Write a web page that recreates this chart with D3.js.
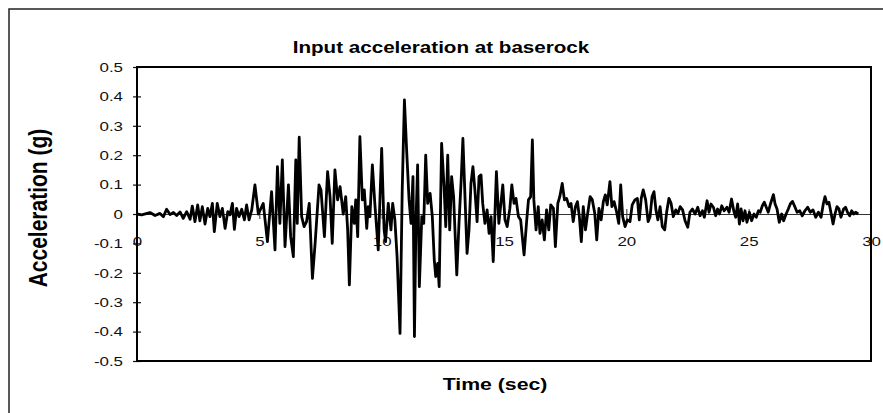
<!DOCTYPE html>
<html>
<head>
<meta charset="utf-8">
<script src="https://cdn.jsdelivr.net/npm/d3@7"></script>
<style>
  body { margin: 0; background: #fff; }
  svg { display: block; font-family: Arial, "Liberation Sans", sans-serif; }
</style>
</head>
<body>
<div id="chart"></div>
<script>
// Record, [time (s), acceleration (g)] turning points
const PRE_SHAKING = [
  [0,0],[0.19,-0.003],[0.53,0.005],[0.74,-0.005],[0.94,0.002],[1.08,-0.009],[1.21,0.016],
  [1.35,-0.002],[1.49,0.005],[1.62,-0.005],[1.76,0.007],[1.89,-0.015],[2.03,0.008],[2.17,-0.018],
  [2.26,0.027],[2.37,-0.026],[2.48,0.031],[2.57,-0.023],[2.67,0.025],[2.78,-0.034],[2.89,0.019],
  [2.98,-0.009],[3.08,0.036],[3.16,-0.06],[3.28,0.036],[3.39,-0.009],[3.49,0.019],[3.60,-0.049],
  [3.71,0.008],[3.80,-0.003],[3.90,0.036],[3.98,-0.052],[4.07,0.019],[4.17,-0.009],[4.28,0.016],
  [4.39,-0.02],[4.48,0.031],[4.58,-0.02],[4.69,0.014]
]
const BUILD_UP = [
  [4.82,0.099],[4.96,0],[5.16,0.036],[5.33,-0.094],[5.50,0.076],[5.64,-0.122],[5.74,0.161],
  [5.84,-0.032],[5.94,0.184],[6.05,-0.111],[6.19,0.099],[6.28,-0.077],[6.39,-0.145],[6.49,0.184],
  [6.55,-0.032],[6.63,0.261],[6.73,-0.009],[6.83,-0.043],[6.93,-0.026],[7.04,0.036],[7.17,-0.219]
]
const STRONG_MOTION = [
  [7.28,-0.1],[7.44,0.099],[7.52,0.082],[7.66,-0.077],[7.79,0.144],[7.89,0.059],[7.98,-0.1],
  [8.09,0.15],[8.20,0.048],[8.30,0.093],[8.43,0],[8.53,0.059],[8.61,-0.054],[8.68,-0.241],
  [8.78,0.025],[8.88,-0.032],[8.94,0.048],[9.02,-0.077],[9.11,0.263],[9.21,0.048],[9.29,0.082],
  [9.39,-0.049],[9.45,0.025],[9.52,-0.009],[9.62,0.167],[9.72,0.036],[9.86,-0.122],[10.0,0.223],
  [10.1,-0.054],[10.16,-0.094],[10.27,0.036],[10.38,-0.054],[10.45,0.036],[10.54,-0.02],
  [10.63,-0.145],[10.75,-0.406],[10.84,0.082],[10.93,0.388],[11.02,0.218],[11.12,0.048],
  [11.20,-0.032],[11.28,0.127],[11.34,-0.417],[11.40,-0.032],[11.47,0.167],[11.54,-0.247],
  [11.64,-0.009],[11.72,-0.032],[11.80,0.2],[11.88,0.036],[11.98,0.07],[12.07,-0.009],
  [12.15,-0.156],[12.21,-0.213],[12.29,-0.168],[12.35,-0.247],[12.45,0.24],[12.55,0.093],
  [12.62,-0.043],[12.70,0.2],[12.78,-0.054],[12.86,0.127],[12.94,0.059],[13.07,-0.207],
  [13.16,-0.032],[13.25,0.116],[13.32,0.257],[13.41,0.048],[13.49,-0.134],[13.57,-0.054],
  [13.65,0.104],[13.73,0.161],[13.81,0.082],[13.90,-0.026],[13.98,0.127],[14.06,0.133],
  [14.13,0.036],[14.22,-0.032],[14.31,0.014],[14.39,-0.066],[14.47,-0.009],[14.56,-0.162],
  [14.69,0.144],[14.79,-0.032]
]
const CODA_EARLY = [
  [14.95,0.099],[15.04,-0.02],[15.13,-0.043],[15.24,0.019],[15.32,0.099],[15.41,0.036],
  [15.49,0.053],[15.59,-0.009],[15.68,-0.02],[15.82,-0.139],[15.93,-0.02],[16.0,0.048],
  [16.09,0.059],[16.16,0.252],[16.22,0.048],[16.31,-0.054],[16.40,0.025],[16.47,-0.066],
  [16.56,-0.02],[16.65,-0.088],[16.74,0.014],[16.83,-0.054],[16.91,0.031],[17.02,0.019],
  [17.10,-0.111],[17.20,0.036],[17.28,0.059],[17.38,0.104],[17.47,0.048],[17.56,0.053],
  [17.66,0.025],[17.74,0.036],[17.83,-0.026],[17.92,0.025],[18.0,0.042],[18.08,-0.009],
  [18.16,-0.094],[18.24,0.025],[18.33,-0.054],[18.42,0.002],[18.52,0.059],[18.61,0.048],
  [18.71,0.002],[18.79,-0.088],[18.88,0.019],[18.97,-0.02],[19.06,0.042],[19.14,0.065],
  [19.22,0.031],[19.33,0.11],[19.41,0.025],[19.50,0.042],[19.60,0.008],[19.69,-0.032],
  [19.77,0.099],[19.85,-0.009],[19.95,-0.043],[20.04,-0.02],[20.15,-0.026],[20.24,0.031],
  [20.35,0.048],[20.45,0.053],[20.53,-0.02],[20.61,0.053],[20.69,0.082],[20.79,0.048],
  [20.89,-0.026],[20.97,-0.009],[21.05,0.059],[21.13,0.076],[21.21,0.014],[21.29,-0.02],
  [21.38,0.025],[21.47,-0.043],[21.57,-0.054],[21.65,0.008],[21.74,0.053],[21.83,0.036],
  [21.92,-0.009],[22.02,0.014],[22.11,0.002],[22.20,0.025],[22.30,0.014]
]
const CODA_LATE = [
  [22.40,-0.023],[22.51,-0.045],[22.6,0.006],[22.7,0.017],[22.81,0],[22.92,0.023],[23.01,-0.006],
  [23.11,0.011],[23.19,-0.011],[23.30,0.045],[23.38,0.006],[23.46,0.034],[23.56,0.023],
  [23.65,-0.006],[23.73,0.017],[23.81,0],[23.90,0.028],[24.0,0.011],[24.11,0.023],[24.2,0.006],
  [24.3,0.051],[24.39,0.011],[24.47,-0.011],[24.55,0.034],[24.62,-0.034],[24.69,0.017],
  [24.77,-0.023],[24.85,0.011],[24.93,-0.028],[25.03,0.006],[25.12,-0.023],[25.22,0],
  [25.31,-0.011],[25.40,0.011],[25.47,0.006],[25.56,0.028],[25.64,0.04],[25.72,0.023],
  [25.80,0.006],[25.89,0.034],[26.01,0.066],[26.08,0.034],[26.16,0.017],[26.25,-0.028],
  [26.35,0],[26.43,-0.023],[26.53,0],[26.62,0.017],[26.70,0.034],[26.79,0.043],[26.87,0.028],
  [26.98,0.006],[27.09,0.011],[27.19,-0.006],[27.30,0.011],[27.41,0.023],[27.52,0.006],
  [27.63,0.014],[27.74,-0.011],[27.85,0.006],[27.96,-0.011],[28.05,0.034],[28.12,0.059],
  [28.20,0.034],[28.28,0.04],[28.36,0.006],[28.45,-0.034],[28.53,0],[28.61,0.025],[28.69,0.017],
  [28.77,-0.011],[28.88,0.017],[28.96,0.023],[29.04,0.006],[29.13,-0.006],[29.21,0.011],
  [29.29,0],[29.37,0.006],[29.48,0]
]

const Y_TICKS = [0.5,0.4,0.3,0.2,0.1,0,-0.1,-0.2,-0.3,-0.4,-0.5]
const X_TICKS = [0,5,10,15,20,25,30]

const TITLE = 'Input acceleration at baserock'
const X_TITLE = 'Time (sec)'
const Y_TITLE = 'Acceleration (g)'

// chart size + plot box
const W = 883, H = 413
const margin = {left: 137, top: 67, right: 12, bottom: 52}
const plotW = W - margin.left - margin.right
const plotH = H - margin.top - margin.bottom
// the scanned chart is wider than it is tall, text included
const STRETCH = 1.25

const record = [].concat(PRE_SHAKING, BUILD_UP, STRONG_MOTION, CODA_EARLY, CODA_LATE)

var svg = d3.select('#chart').append('svg')
  .attr('width', W)
  .attr('height', H)

// outer chart border
svg.append('rect')
  .attr('x', 9).attr('y', 9)
  .attr('width', W + 10).attr('height', H + 10)
  .attr('fill', '#fff')
  .attr('stroke', '#222')
  .attr('stroke-width', 1.5)

var x = d3.scaleLinear().domain([0, 30]).range([0, plotW])
var y = d3.scaleLinear().domain([-0.5, 0.5]).range([plotH, 0])

var g = svg.append('g').attr('transform', `translate(${margin.left},${margin.top})`)

// y axis, ticks cross the axis line
var yAxis = g.append('g')
  .call(d3.axisLeft(y).tickValues(Y_TICKS).tickSize(4).tickPadding(10)
    .tickFormat(d => d === 0 ? '0' : d.toFixed(1)))
yAxis.select('.domain').remove()
yAxis.selectAll('.tick line').attr('x1', 4).attr('stroke', '#111').attr('stroke-width', 1.2)
yAxis.selectAll('text')
  .style('font-size', '13.5px').attr('fill', '#111')
  .attr('x', -14 / STRETCH)
  .attr('transform', `scale(${STRETCH},1)`)

// x axis sits on the zero line
var xAxis = g.append('g')
  .attr('transform', `translate(0,${y(0)})`)
  .call(d3.axisBottom(x).tickValues(X_TICKS).tickSizeInner(5).tickSizeOuter(0).tickPadding(17))
xAxis.select('.domain').attr('stroke', '#333').attr('stroke-width', 1)
xAxis.selectAll('.tick line').attr('y1', -5).attr('stroke', '#333')
xAxis.selectAll('text')
  .style('font-size', '13.5px').attr('fill', '#111')
  .attr('transform', `scale(${STRETCH},1)`)

// the record
var line = d3.line()
  .x(d => x(d[0]))
  .y(d => y(d[1]))

g.append('path')
  .datum(record)
  .attr('d', line)
  .attr('fill', 'none')
  .attr('stroke', '#000')
  .attr('stroke-width', 2.8)
  .attr('stroke-linejoin', 'round')

// plot area frame
g.append('rect')
  .attr('width', plotW).attr('height', plotH)
  .attr('fill', 'none')
  .attr('stroke', '#000')
  .attr('stroke-width', 2)

// titles
svg.append('text')
  .attr('transform', `translate(441,53) scale(${STRETCH},1)`)
  .attr('text-anchor', 'middle')
  .style('font-size', '16.5px').style('font-weight', 'bold')
  .text(TITLE)

svg.append('text')
  .attr('transform', `translate(495,390) scale(${STRETCH},1)`)
  .attr('text-anchor', 'middle')
  .style('font-size', '17px').style('font-weight', 'bold')
  .text(X_TITLE)

svg.append('text')
  .attr('transform', `translate(47,208) scale(${STRETCH},1) rotate(-90)`)
  .attr('text-anchor', 'middle')
  .style('font-size', '21px').style('font-weight', 'bold')
  .text(Y_TITLE)
</script>
</body>
</html>
